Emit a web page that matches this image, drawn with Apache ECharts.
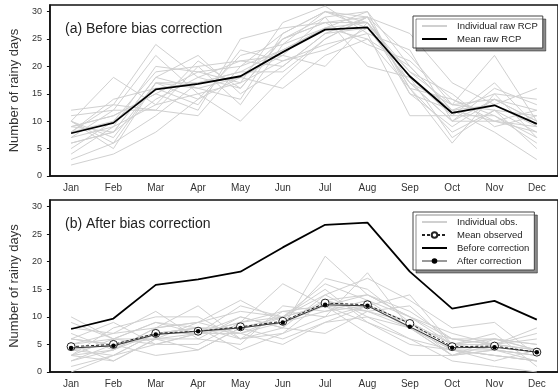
<!DOCTYPE html>
<html>
<head>
<meta charset="utf-8">
<script src="https://cdn.jsdelivr.net/npm/echarts@6/dist/echarts.min.js"></script>
<style>
  html, body { margin: 0; padding: 0; background: #fff; }
  #chart { width: 558px; height: 391px; }
</style>
</head>
<body>
<div id="chart"></div>
<script>
// Monthly number of rainy days: raw RCP members vs. bias-corrected results
const months = ['Jan', 'Feb', 'Mar', 'Apr', 'May', 'Jun', 'Jul', 'Aug', 'Sep', 'Oct', 'Nov', 'Dec'];
const yTicks = [0, 5, 10, 15, 20, 25, 30];

// Individual raw RCP members (panel a)
const rawMembers = [
  [8, 10, 16, 17, 19, 23, 27, 28, 18, 12, 13, 9],
  [12, 13, 24, 18, 16, 25, 29, 30, 20, 12, 10, 9],
  [2, 4, 8, 14, 22, 24, 30, 27, 17, 10, 14, 12],
  [10, 18, 13, 15, 10, 18, 25, 29, 17, 13, 22, 10],
  [6, 8, 18, 22, 15, 20, 26, 29, 16, 8, 12, 5],
  [9, 11, 15, 12, 25, 27, 28, 24, 21, 14, 11, 7],
  [4, 9, 20, 19, 17, 21, 24, 26, 23, 10, 16, 13],
  [7, 12, 12, 11, 20, 26, 30, 28, 19, 15, 9, 11],
  [10, 7, 17, 16, 18, 16, 22, 25, 16, 6, 15, 14],
  [5, 10, 19, 20, 13, 24, 27, 30, 15, 12, 8, 3],
  [9, 8, 14, 18, 21, 22, 29, 20, 18, 11, 17, 9],
  [11, 12, 22, 15, 17, 28, 31, 26, 11, 11, 11, 6],
  [3, 6, 11, 17, 19, 19, 25, 29, 26, 17, 13, 16],
  [8, 14, 16, 13, 23, 21, 23, 27, 17, 10, 10, 8],
  [7, 9, 13, 21, 16, 25, 28, 29, 22, 13, 14, 10],
  [10, 5, 17, 14, 18, 22, 20, 28, 18, 7, 12, 11],
  [9, 11, 15, 19, 20, 23, 27, 25, 20, 12, 15, 7],
  [6, 8, 18, 16, 14, 26, 30, 29, 16, 14, 10, 12],
  [8, 13, 12, 20, 21, 20, 26, 27, 19, 13, 12, 8],
  [10, 6, 17, 17, 18, 25, 28, 28, 15, 9, 14, 10]
];

// Individual observation records (panel b)
const obsMembers = [
  [4, 5, 7, 8, 8, 9, 12, 12, 9, 5, 5, 4],
  [10, 6, 9, 7, 7, 10, 14, 10, 8, 4, 3, 2],
  [1, 3, 5, 7, 10, 8, 21, 14, 11, 6, 6, 5],
  [6, 9, 5, 5, 9, 11, 10, 18, 8, 3, 4, 3],
  [3, 4, 8, 12, 6, 7, 13, 11, 12, 5, 7, 1],
  [5, 2, 6, 9, 11, 10, 15, 9, 6, 4, 2, 4],
  [8, 7, 11, 6, 5, 12, 11, 13, 10, 7, 5, 6],
  [2, 5, 3, 4, 8, 6, 9, 12, 14, 5, 4, 3],
  [7, 4, 8, 9, 13, 9, 17, 15, 9, 3, 6, 5],
  [0, 3, 7, 8, 7, 5, 9, 10, 6, 2, 1, 0],
  [5, 6, 6, 7, 9, 16, 12, 11, 8, 6, 5, 7],
  [3, 8, 10, 10, 6, 8, 14, 17, 13, 8, 9, 3],
  [6, 5, 6, 4, 8, 10, 12, 9, 5, 4, 3, 2],
  [4, 3, 7, 7, 12, 10, 16, 13, 8, 3, 5, 8],
  [9, 6, 9, 8, 4, 7, 10, 12, 9, 5, 6, 4],
  [2, 4, 7, 7, 9, 10, 12, 7, 3, 3, 4, 3],
  [5, 7, 8, 9, 7, 9, 13, 14, 10, 6, 5, 4],
  [3, 2, 6, 6, 10, 8, 7, 11, 9, 4, 3, 2],
  [6, 5, 7, 8, 6, 11, 12, 14, 10, 5, 6, 4],
  [3, 6, 5, 7, 8, 9, 11, 12, 8, 4, 4, 2]
];

const meanRaw      = [7.8, 9.7, 15.8, 16.8, 18.2, 22.6, 26.7, 27.1, 18.2, 11.5, 12.9, 9.5];
const meanObserved = [4.6, 5.0, 7.0, 7.4, 8.2, 9.2, 12.5, 12.2, 8.8, 4.6, 4.7, 3.6];
const afterCorr    = [4.35, 4.75, 6.8, 7.4, 8.0, 9.0, 12.2, 12.0, 8.2, 4.4, 4.5, 3.6];

const FONT = 'Liberation Sans';
const GRAY = '#d0d0d0';

function xAxis(gridIndex) {
  return {
    type: 'category', gridIndex, data: months, boundaryGap: true,
    axisLine: { lineStyle: { color: '#111', width: 1.5 } },
    axisTick: { length: 5, lineStyle: { color: '#111', width: 1 } },
    axisLabel: { fontFamily: FONT, fontSize: 10, color: '#333', margin: 7 },
    splitLine: { show: false }
  };
}
function yAxis(gridIndex) {
  return {
    type: 'value', gridIndex, min: 0, max: 31.2, interval: 5,
    name: 'Number of rainy days', nameLocation: 'middle', nameGap: 23,
    nameTextStyle: { fontFamily: FONT, fontSize: 13, color: '#333' },
    axisLine: { show: true, lineStyle: { color: '#111', width: 1.5 } },
    axisTick: { show: true, length: 3, lineStyle: { color: '#111' } },
    axisLabel: {
      fontFamily: FONT, fontSize: 9, color: '#333', margin: 8, showMaxLabel: false,
      formatter: v => (yTicks.indexOf(v) >= 0 ? String(v) : '')
    },
    splitLine: { show: false }
  };
}

const series = [];
rawMembers.forEach(d => series.push({
  type: 'line', name: 'Individual raw RCP', xAxisIndex: 0, yAxisIndex: 0, data: d,
  symbol: 'none', lineStyle: { color: GRAY, width: 1 }, itemStyle: { color: GRAY }, z: 1
}));
series.push({
  type: 'line', name: 'Mean raw RCP', xAxisIndex: 0, yAxisIndex: 0, data: meanRaw,
  symbol: 'none', lineStyle: { color: '#000', width: 1.8 }, itemStyle: { color: '#000' }, z: 3
});
obsMembers.forEach(d => series.push({
  type: 'line', name: 'Individual obs.', xAxisIndex: 1, yAxisIndex: 1, data: d,
  symbol: 'none', lineStyle: { color: GRAY, width: 1 }, itemStyle: { color: GRAY }, z: 1
}));
series.push({
  type: 'line', name: 'Before correction', xAxisIndex: 1, yAxisIndex: 1, data: meanRaw,
  symbol: 'none', lineStyle: { color: '#000', width: 1.8 }, itemStyle: { color: '#000' }, z: 3
});
series.push({
  type: 'line', name: 'Mean observed', xAxisIndex: 1, yAxisIndex: 1, data: meanObserved,
  symbol: 'circle', symbolSize: 8, showAllSymbol: true,
  lineStyle: { color: '#222', width: 1, type: [3, 2] },
  itemStyle: { color: '#fff', borderColor: '#222', borderWidth: 1 }, z: 4
});
series.push({
  type: 'line', name: 'After correction', xAxisIndex: 1, yAxisIndex: 1, data: afterCorr,
  symbol: 'circle', symbolSize: 4.5, showAllSymbol: true,
  lineStyle: { color: '#333', width: 1 }, itemStyle: { color: '#000', borderWidth: 0 }, z: 5
});

const legendBase = {
  orient: 'vertical', left: 413, itemWidth: 25, itemHeight: 7, itemGap: 3,
  padding: [5, 5, 4, 8], backgroundColor: '#fff', borderColor: '#444', borderWidth: 1,
  shadowColor: 'rgba(0,0,0,0.45)', shadowBlur: 0, shadowOffsetX: 3, shadowOffsetY: 3,
  textStyle: { fontFamily: FONT, fontSize: 9.5, color: '#222', padding: [0, 0, 0, 5] },
  selectedMode: false
};
const noDot = { opacity: 0 };

const chart = echarts.init(document.getElementById('chart'), null, { renderer: 'canvas' });
chart.setOption({
  animation: false,
  backgroundColor: '#fff',
  title: [
    { text: '(a) Before bias correction', left: 60, top: 17,
      textStyle: { fontFamily: FONT, fontSize: 14, fontWeight: 'normal', color: '#222' } },
    { text: '(b) After bias correction', left: 60, top: 212,
      textStyle: { fontFamily: FONT, fontSize: 14, fontWeight: 'normal', color: '#222' } }
  ],
  legend: [
    Object.assign({}, legendBase, {
      top: 16,
      data: [
        { name: 'Individual raw RCP', itemStyle: noDot },
        { name: 'Mean raw RCP', itemStyle: noDot }
      ]
    }),
    Object.assign({}, legendBase, {
      top: 212,
      data: [
        { name: 'Individual obs.', itemStyle: noDot },
        { name: 'Mean observed' },
        { name: 'Before correction', itemStyle: noDot },
        { name: 'After correction', lineStyle: { color: '#999' } }
      ]
    })
  ],
  grid: [
    { left: 45, top: 5, width: 517, height: 171, show: true, borderColor: '#111', borderWidth: 1.5, backgroundColor: 'transparent' },
    { left: 45, top: 200, width: 517, height: 172, show: true, borderColor: '#111', borderWidth: 1.5, backgroundColor: 'transparent' }
  ],
  xAxis: [xAxis(0), xAxis(1)],
  yAxis: [yAxis(0), yAxis(1)],
  series
});
</script>
</body>
</html>
